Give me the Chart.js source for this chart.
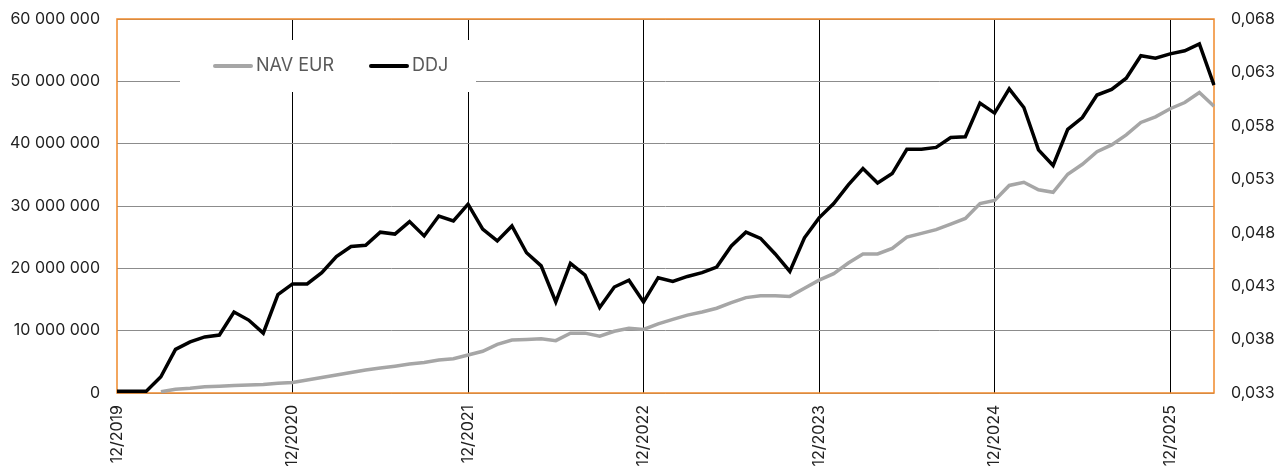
<!DOCTYPE html>
<html lang="fr">
  <head>
    <meta charset="UTF-8" />
    <title>NAV EUR / DDJ</title>
    <script src="https://cdn.jsdelivr.net/npm/chart.js"></script>
    <style>
      body { margin: 0; background: #fff; overflow: hidden; }
      #wrap { width: 1287px; height: 470px; position: relative; }
    </style>
  </head>
  <body>
    <div id="wrap"><canvas id="navChart"></canvas></div>

    <script>
      // monthly categories, 12/2019 -> 03/2026
      const months = [
        "12/2019",
        "01/2020", "02/2020", "03/2020", "04/2020", "05/2020", "06/2020", "07/2020", "08/2020", "09/2020", "10/2020", "11/2020", "12/2020",
        "01/2021", "02/2021", "03/2021", "04/2021", "05/2021", "06/2021", "07/2021", "08/2021", "09/2021", "10/2021", "11/2021", "12/2021",
        "01/2022", "02/2022", "03/2022", "04/2022", "05/2022", "06/2022", "07/2022", "08/2022", "09/2022", "10/2022", "11/2022", "12/2022",
        "01/2023", "02/2023", "03/2023", "04/2023", "05/2023", "06/2023", "07/2023", "08/2023", "09/2023", "10/2023", "11/2023", "12/2023",
        "01/2024", "02/2024", "03/2024", "04/2024", "05/2024", "06/2024", "07/2024", "08/2024", "09/2024", "10/2024", "11/2024", "12/2024",
        "01/2025", "02/2025", "03/2025", "04/2025", "05/2025", "06/2025", "07/2025", "08/2025", "09/2025", "10/2025", "11/2025", "12/2025",
        "01/2026", "02/2026", "03/2026"
      ];

      // only these get a label + vertical line
      const tickLabels = ["12/2019", "12/2020", "12/2021", "12/2022", "12/2023", "12/2024", "12/2025"];

      // values in millions EUR
      const navEur = [
        null, null, null, 0.2, 0.6, 0.75, 1.0, 1.1, 1.2, 1.3, 1.35, 1.55,
        1.7, 2.1, 2.5, 2.9, 3.3, 3.7, 4.0, 4.3, 4.65, 4.9, 5.3, 5.5,
        6.1, 6.7, 7.8, 8.5, 8.6, 8.7, 8.4, 9.6, 9.6, 9.1, 9.9, 10.4,
        10.2, 11.1, 11.8, 12.5, 13.0, 13.6, 14.5, 15.3, 15.6, 15.6, 15.5, 16.8,
        18.1, 19.15, 20.85, 22.3, 22.3, 23.2, 25.0, 25.6, 26.2, 27.1, 28.0, 30.4,
        30.9, 33.3, 33.8, 32.6, 32.2, 35.1, 36.7, 38.7, 39.8, 41.4, 43.4, 44.3,
        45.6, 46.6, 48.2, 46.0
      ];

      const ddj = [
        0.3, 0.3, 0.3, 2.6, 7.0, 8.2, 9.0, 9.3, 13.0, 11.7, 9.6, 15.8,
        17.5, 17.5, 19.3, 21.9, 23.5, 23.7, 25.8, 25.5, 27.5, 25.2, 28.4, 27.6,
        30.3, 26.3, 24.4, 26.8, 22.5, 20.4, 14.6, 20.8, 18.9, 13.7, 17.0, 18.1,
        14.6, 18.5, 17.9, 18.7, 19.3, 20.2, 23.6, 25.8, 24.8, 22.3, 19.5, 24.9,
        28.1, 30.4, 33.4, 36.0, 33.7, 35.2, 39.1, 39.1, 39.4, 41.0, 41.1, 46.5,
        44.9, 48.8, 45.8, 39.0, 36.5, 42.3, 44.2, 47.8, 48.7, 50.5, 54.1, 53.7,
        54.4, 54.9, 56.0, 49.4
      ];

      const ORANGE = "#F0892A";

      // white legend box sitting inside the plot, over the gridlines
      const boxLegend = {
        id: "boxLegend",
        beforeDatasetsDraw(chart) {
          const ctx = chart.ctx;
          const a = chart.chartArea;
          ctx.save();
          ctx.fillStyle = "#fff";
          ctx.fillRect(180, 40, 296, 52);

          const items = [
            { x: 213, text: "NAV EUR", color: "#A6A6A6" },
            { x: 369, text: "DDJ", color: "#000" },
          ];
          ctx.font = "18px Inter";
          ctx.textBaseline = "middle";
          items.forEach((it) => {
            ctx.strokeStyle = it.color;
            ctx.lineWidth = 4;
            ctx.lineCap = "round";
            ctx.beginPath();
            ctx.moveTo(it.x + 2, 66);
            ctx.lineTo(it.x + 38, 66);
            ctx.stroke();
            ctx.fillStyle = "#595959";
            ctx.fillText(it.text, it.x + 43, 66);
          });

          // orange frame round the plot
          ctx.strokeStyle = ORANGE;
          ctx.lineWidth = 1.5;
          ctx.lineCap = "butt";
          ctx.strokeRect(a.left, a.top, a.right - a.left, a.bottom - a.top);
          ctx.restore();
        },
      };

      const tickFont = { family: "Inter", size: 16 };

      // fixed axis widths; drop the extra top/bottom padding the tick padding adds
      const fitY = (w) => (s) => {
        s.width = w;
        s.paddingTop = 8;
        s.paddingBottom = 8;
      };

      new Chart(document.getElementById("navChart"), {
        type: "line",
        data: {
          labels: months,
          datasets: [
            {
              label: "NAV EUR",
              data: navEur.map((v) => (v === null ? null : v * 1000000)),
              borderColor: "#A6A6A6",
              borderWidth: 3.5,
              pointRadius: 0,
              tension: 0,
              yAxisID: "y",
            },
            {
              label: "DDJ",
              data: ddj.map((v) => v * 1000000),
              borderColor: "#000",
              borderWidth: 3.5,
              pointRadius: 0,
              tension: 0,
              yAxisID: "y",
            },
          ],
        },
        options: {
          responsive: true,
          maintainAspectRatio: false,
          animation: false,
          layout: { padding: { top: 19, left: 0, right: 0, bottom: 0 } },
          plugins: {
            legend: { display: false },
            tooltip: { enabled: false },
          },
          scales: {
            x: {
              offset: false,
              border: { display: false },
              grid: {
                drawTicks: false,
                lineWidth: 1,
                color: (c) => {
                  const lbl = months[c.index];
                  return c.index > 0 && tickLabels.includes(lbl) ? "#000" : "rgba(0,0,0,0)";
                },
              },
              ticks: {
                autoSkip: false,
                maxRotation: 90,
                minRotation: 90,
                padding: 12,
                color: "#222",
                font: tickFont,
                callback: (v, i) => (tickLabels.includes(months[i]) ? months[i] : ""),
              },
              afterFit: (s) => { s.height = 77; },
            },
            y: {
              position: "left",
              min: 0,
              max: 60000000,
              border: { display: false },
              grid: { color: "#8C8C8C", lineWidth: 1, drawTicks: false },
              ticks: {
                stepSize: 10000000,
                padding: 17,
                color: "#222",
                font: tickFont,
                callback: (v) => String(v).replace(/\B(?=(\d{3})+(?!\d))/g, " "),
              },
              afterFit: fitY(117),
            },
            y1: {
              position: "right",
              min: 0.033,
              max: 0.068,
              border: { display: false },
              grid: { display: false, drawTicks: false },
              ticks: {
                stepSize: 0.005,
                padding: 17,
                color: "#222",
                font: tickFont,
                callback: (v) => Number(v).toFixed(3).replace(".", ","),
              },
              afterFit: fitY(73),
            },
          },
        },
        plugins: [boxLegend],
      });
    </script>
  </body>
</html>
